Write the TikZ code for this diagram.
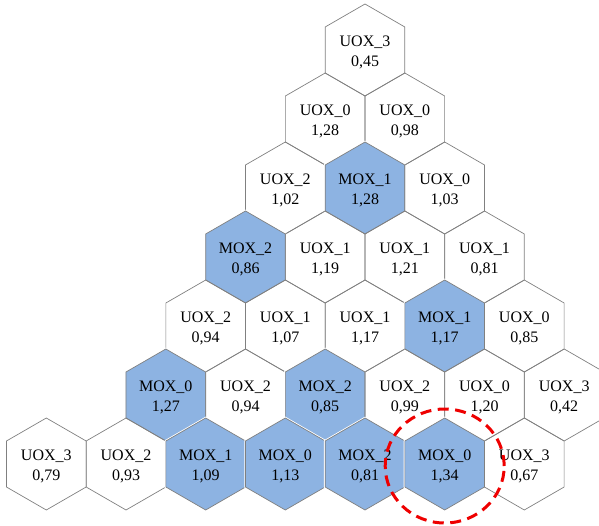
\documentclass[tikz,border=0pt]{standalone}
\usepackage{fontspec}
\setmainfont{Liberation Serif}
\usetikzlibrary{shapes.geometric}
\definecolor{hexblue}{RGB}{141,179,226}
\definecolor{hexline}{RGB}{128,128,128}
\definecolor{markred}{RGB}{238,0,0}
\tikzset{
  cell/.style={regular polygon, regular polygon sides=6, shape border rotate=30,
    minimum size=92pt, inner sep=0pt, outer sep=0pt, draw=hexline, line width=0.7pt},
  mox/.style={cell, fill=hexblue, preaction={draw=white, line width=2.4pt}},
  uox/.style={cell},
  celltext/.style={inner sep=0pt, align=center, font=\fontsize{16}{20}\selectfont},
  marker/.style={draw=markred, line width=3pt, dash pattern=on 11pt off 6.5pt}
}
% one hexagonal fuel cell: name, x, y, type, value, style
\newcommand\hexcell[6]{%
  \node[#6] (#1) at (#2,#3) {};
  \node[celltext] (#1-text) at ([yshift=-2.5pt]#1.center) {#4\\#5};}
\begin{document}
\begin{tikzpicture}[x=1pt, y=-1pt]
  \useasboundingbox (0,0) rectangle (599,526);
  \clip (0,0) rectangle (599,526);
  % row 0
  \hexcell{a1}{365}{50}{UOX\_3}{0,45}{uox}
  % row 1
  \hexcell{b1}{325.2}{119}{UOX\_0}{1,28}{uox}
  \hexcell{b2}{404.8}{119}{UOX\_0}{0,98}{uox}
  % row 2
  \hexcell{c1}{285.3}{188}{UOX\_2}{1,02}{uox}
  \hexcell{c2}{365}{188}{MOX\_1}{1,28}{mox}
  \hexcell{c3}{444.7}{188}{UOX\_0}{1,03}{uox}
  % row 3
  \hexcell{d1}{245.5}{257}{MOX\_2}{0,86}{mox}
  \hexcell{d2}{325.2}{257}{UOX\_1}{1,19}{uox}
  \hexcell{d3}{404.8}{257}{UOX\_1}{1,21}{uox}
  \hexcell{d4}{484.5}{257}{UOX\_1}{0,81}{uox}
  % row 4
  \hexcell{e1}{205.7}{326}{UOX\_2}{0,94}{uox}
  \hexcell{e2}{285.3}{326}{UOX\_1}{1,07}{uox}
  \hexcell{e3}{365}{326}{UOX\_1}{1,17}{uox}
  \hexcell{e4}{444.7}{326}{MOX\_1}{1,17}{mox}
  \hexcell{e5}{524.3}{326}{UOX\_0}{0,85}{uox}
  % row 5
  \hexcell{f1}{165.8}{395}{MOX\_0}{1,27}{mox}
  \hexcell{f2}{245.5}{395}{UOX\_2}{0,94}{uox}
  \hexcell{f3}{325.2}{395}{MOX\_2}{0,85}{mox}
  \hexcell{f4}{404.8}{395}{UOX\_2}{0,99}{uox}
  \hexcell{f5}{484.5}{395}{UOX\_0}{1,20}{uox}
  \hexcell{f6}{564.2}{395}{UOX\_3}{0,42}{uox}
  % row 6
  \hexcell{g1}{46.3}{464}{UOX\_3}{0,79}{uox}
  \hexcell{g2}{126}{464}{UOX\_2}{0,93}{uox}
  \hexcell{g3}{205.7}{464}{MOX\_1}{1,09}{mox}
  \hexcell{g4}{285.3}{464}{MOX\_0}{1,13}{mox}
  \hexcell{g5}{365}{464}{MOX\_2}{0,81}{mox}
  \hexcell{g6}{444.7}{464}{MOX\_0}{1,34}{mox}
  \hexcell{g7}{524.3}{464}{UOX\_3}{0,67}{uox}
  % highlighted cell
  \draw[marker] ([yshift=-2pt]g6.center) ellipse [x radius=59.5pt, y radius=57pt];
\end{tikzpicture}
\end{document}
